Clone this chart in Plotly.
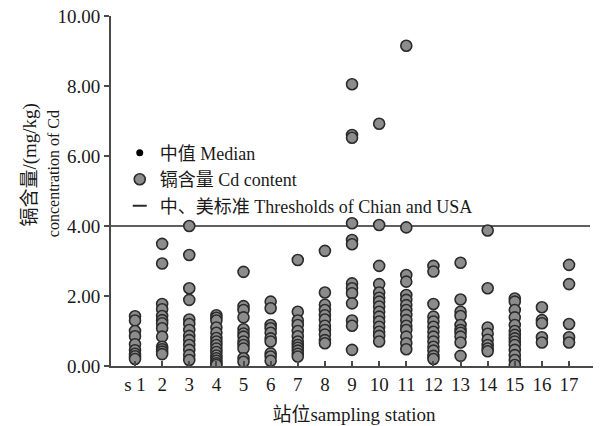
import plotly.graph_objects as go

stations = list(range(1, 18))
tick_labels = ["s 1"] + [str(i) for i in range(2, 18)]

cd_values = {
    1: [1.42, 1.3, 1.0, 0.85, 0.62, 0.45, 0.35, 0.28, 0.2],
    2: [3.49, 2.93, 1.77, 1.62, 1.43, 1.31, 1.22, 1.08, 0.84, 0.55, 0.48, 0.41, 0.34],
    3: [4.0, 3.17, 2.22, 1.89, 1.33, 1.2, 1.03, 0.86, 0.74, 0.6, 0.46, 0.31, 0.17],
    4: [1.45, 1.38, 1.3, 1.1, 0.95, 0.8, 0.7, 0.6, 0.5, 0.4, 0.3, 0.22, 0.15, 0.08, 0.03],
    5: [2.69, 1.71, 1.6, 1.39, 1.05, 0.93, 0.84, 0.7, 0.6, 0.5, 0.22, 0.12],
    6: [1.84, 1.65, 1.17, 1.08, 0.95, 0.79, 0.7, 0.36, 0.27, 0.15],
    7: [3.03, 1.55, 1.3, 1.17, 1.0, 0.85, 0.7, 0.6, 0.52, 0.44, 0.35, 0.27],
    8: [3.29, 2.1, 1.75, 1.6, 1.45, 1.33, 1.15, 1.03, 0.9, 0.74, 0.65],
    9: [8.05, 6.6, 6.52, 4.08, 3.6, 3.48, 2.36, 2.22, 2.08, 1.79, 1.3, 1.15, 0.46],
    10: [6.92, 4.03, 2.86, 2.34, 2.1, 1.95, 1.84, 1.7, 1.55, 1.41, 1.27, 1.12, 0.98, 0.86, 0.7],
    11: [9.15, 3.96, 2.6, 2.41, 2.03, 1.89, 1.74, 1.6, 1.46, 1.31, 1.15, 1.03, 0.84, 0.65, 0.48],
    12: [2.86, 2.7, 1.77, 1.41, 1.27, 1.12, 0.98, 0.84, 0.7, 0.55, 0.44, 0.29, 0.2],
    13: [2.95, 1.9, 1.55, 1.43, 1.17, 1.03, 0.95, 0.84, 0.67, 0.29],
    14: [3.87, 2.22, 1.1, 0.92, 0.75, 0.6, 0.5, 0.42],
    15: [1.93, 1.84, 1.6, 1.39, 1.17, 1.0, 0.89, 0.79, 0.7, 0.6, 0.46, 0.31, 0.17, 0.03],
    16: [1.68, 1.31, 1.22, 0.82, 0.67],
    17: [2.89, 2.34, 1.2, 0.82, 0.67],
}

median_values = [0.62, 0.55, 0.74, 0.5, 0.7, 0.79, 0.6, 1.15, 2.22, 1.55, 1.46, 0.84, 1.03, 0.75, 0.75, 1.22, 1.2]

threshold_value = 4.0
threshold_x = [0.115, 17.77]

cd_x, cd_y = [], []
for s in stations:
    for v in cd_values[s]:
        cd_x.append(s)
        cd_y.append(v)

SERIF = "Liberation Serif, Times New Roman, Noto Sans CJK SC, serif"
AXC = "#4a4a4a"

fig = go.Figure()

fig.add_trace(go.Scatter(
    x=threshold_x, y=[threshold_value, threshold_value], mode="lines",
    line=dict(color="#2a2a2a", width=1.6), showlegend=False, hoverinfo="skip"))

fig.add_trace(go.Scatter(
    x=stations, y=median_values, mode="markers", name="中值 Median",
    marker=dict(color="black", size=7)))

fig.add_trace(go.Scatter(
    x=cd_x, y=cd_y, mode="markers", name="镉含量 Cd content",
    marker=dict(color="#8c8c8c", size=11, line=dict(color="#2b2b2b", width=1.6))))

fig.add_trace(go.Scatter(
    x=[None], y=[None], mode="markers", name="中、美标准 Thresholds of Chian and USA",
    marker=dict(symbol="line-ew-open", size=10, color="#2a2a2a",
                line=dict(color="#2a2a2a", width=2))))

fig.update_layout(
    width=601, height=426,
    margin=dict(l=103, r=12, t=8, b=68),
    paper_bgcolor="white", plot_bgcolor="white",
    font=dict(family=SERIF, size=19, color="#1a1a1a"),
    showlegend=True,
    legend=dict(x=0.018, y=0.661, xanchor="left", yanchor="top",
                bgcolor="rgba(0,0,0,0)", font=dict(size=18, family=SERIF),
                itemwidth=30, tracegroupgap=0),
    xaxis=dict(range=[0.115, 18.03], tickvals=stations, ticktext=tick_labels,
               showgrid=False, zeroline=False, showline=True, linecolor=AXC, linewidth=2,
               ticks="inside", ticklen=5, tickcolor=AXC, tickwidth=1.5,
               tickfont=dict(size=19, family=SERIF), ticklabeloverflow="allow",
               automargin=False,
               title=dict(text="站位sampling station", font=dict(size=19, family=SERIF), standoff=14)),
    yaxis=dict(range=[0, 10], tickvals=[0, 2, 4, 6, 8, 10], tickformat=".2f",
               showgrid=False, zeroline=False, showline=True, linecolor=AXC, linewidth=2,
               ticks="outside", ticklen=5, tickcolor=AXC, tickwidth=1.5,
               tickfont=dict(size=19, family=SERIF), ticklabeloverflow="allow",
               automargin=False),
)

fig.add_annotation(text="镉含量/(mg/kg)", xref="paper", yref="paper",
                   x=-0.167, y=0.575, xanchor="center", yanchor="middle", textangle=-90,
                   showarrow=False, font=dict(size=19, family=SERIF))
fig.add_annotation(text="concentration of Cd", xref="paper", yref="paper",
                   x=-0.118, y=0.55, xanchor="center", yanchor="middle", textangle=-90,
                   showarrow=False, font=dict(size=16, family=SERIF))

fig.write_html("out.html")
